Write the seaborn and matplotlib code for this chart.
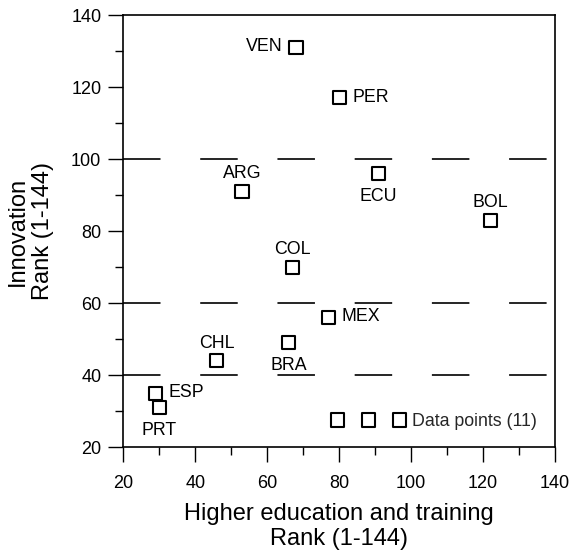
import pandas as pd
import matplotlib
matplotlib.use("Agg")
import matplotlib.pyplot as plt
import seaborn as sns

# Data
countries = ['VEN', 'PER', 'ARG', 'ECU', 'BOL', 'COL', 'MEX', 'CHL', 'BRA', 'ESP', 'PRT']
higher_edu_rank = [68, 80, 53, 91, 122, 67, 77, 46, 66, 29, 30]
innovation_rank = [131, 117, 91, 96, 83, 70, 56, 44, 49, 35, 31]
ref_lines = [40, 60, 100]

# where each label sits relative to its marker
label_side = {'VEN': 'left', 'PER': 'right', 'ARG': 'above', 'ECU': 'below',
              'BOL': 'above', 'COL': 'above', 'MEX': 'right', 'CHL': 'above',
              'BRA': 'below', 'ESP': 'right', 'PRT': 'below'}

df = pd.DataFrame({'country': countries,
                   'higher_edu': higher_edu_rank,
                   'innovation': innovation_rank})

sns.set_style("ticks")
plt.rcParams['font.family'] = ['Liberation Sans', 'DejaVu Sans']
plt.rcParams['lines.scale_dashes'] = False

fig, ax = plt.subplots(figsize=(5.73, 5.54), dpi=100)
fig.subplots_adjust(left=0.2152, right=0.9686, bottom=0.1926, top=0.9729)

# dashed reference lines
for y in ref_lines:
    ax.axhline(y, color='black', lw=1.2, linestyle=(0, (27, 28.6)), zorder=1)

sns.scatterplot(data=df, x='higher_edu', y='innovation', marker='s', s=90,
                color='black', linewidth=1.5, label='Data points (11)', ax=ax,
                zorder=3)
pts = ax.collections[0]
pts.set_facecolor('none')
pts.set_edgecolor('black')
pts.set_linewidth(1.5)

# country labels
for _, row in df.iterrows():
    side = label_side[row['country']]
    if side == 'left':
        off, ha, va = (-9.9, 0.5), 'right', 'center'
    elif side == 'right':
        off, ha, va = (9.5, 0.5), 'left', 'center'
    elif side == 'above':
        off, ha, va = (0, 9.4), 'center', 'baseline'
    else:
        off, ha, va = (0, -10.3), 'center', 'top'
    ax.annotate(row['country'], (row['higher_edu'], row['innovation']),
                xytext=off, textcoords='offset points', ha=ha, va=va,
                fontsize=12.8, color='black')

ax.set_xlim(20, 140)
ax.set_ylim(20, 140)
ax.set_xticks(range(20, 141, 20))
ax.set_yticks(range(20, 141, 20))
ax.set_xticks(range(30, 140, 20), minor=True)
ax.set_yticks(range(30, 140, 20), minor=True)
ax.tick_params(which='major', direction='out', length=10.8, width=1,
               labelsize=13, color='black', labelcolor='black')
ax.tick_params(axis='x', which='major', pad=9)
ax.tick_params(axis='y', which='major', pad=5)
ax.tick_params(which='minor', direction='out', length=5.5, width=1, color='black')

for sp in ax.spines.values():
    sp.set_visible(True)
    sp.set_linewidth(1.2)
    sp.set_color('black')

ax.set_xlabel('Higher education and training\nRank (1-144)', fontsize=17,
              labelpad=8, color='black')
ax.set_ylabel('Innovation\nRank (1-144)', fontsize=17, labelpad=12, color='black')

leg = ax.legend(loc='center right', bbox_to_anchor=(0.958, 0.059),
                frameon=False, scatterpoints=3, scatteryoffsets=[0.5],
                handlelength=4.11, handletextpad=0.4, borderpad=0,
                borderaxespad=0, fontsize=12.8)

fig.savefig('out.png', dpi=100)
